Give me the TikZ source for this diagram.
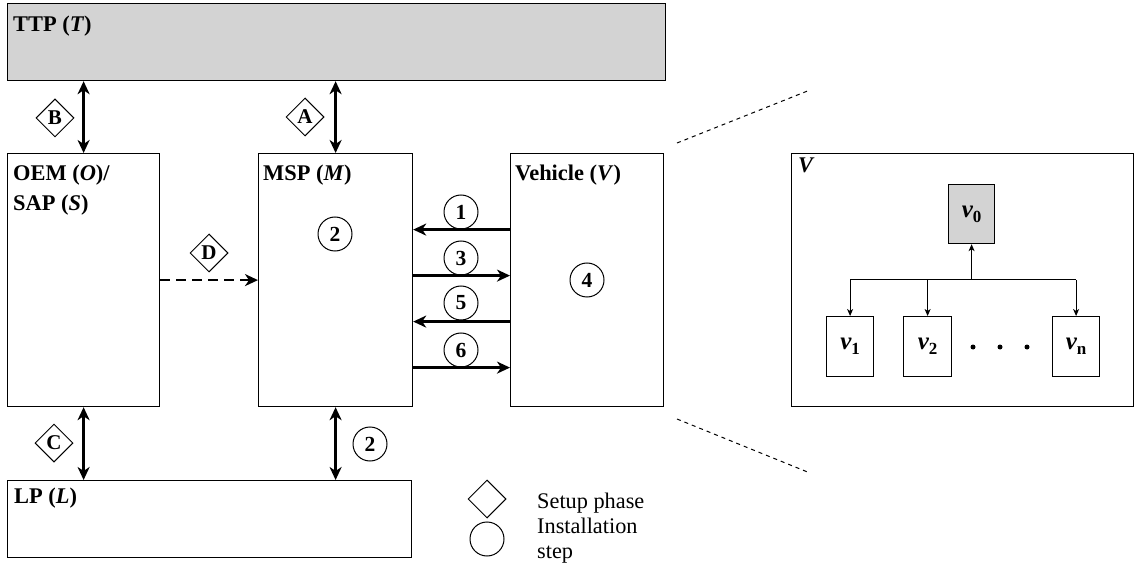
\documentclass[tikz,border=0pt]{standalone}
\usepackage{fontspec}
\setmainfont{Liberation Serif}
\usetikzlibrary{arrows.meta,shapes.geometric,calc}
\definecolor{lgray}{RGB}{211,211,211}
\newcommand{\vsub}[1]{{\bfseries\itshape v}\raisebox{-5pt}{\bfseries\fontsize{17}{17}\selectfont #1}}
\tikzset{
  box/.style={draw, line width=1.2pt, inner sep=0, anchor=north west},
  lbl/.style={anchor=base west, inner sep=0, font=\fontsize{22.4}{24}\selectfont\bfseries},
  dia/.style={draw, diamond, line width=1pt, minimum width=38pt, minimum height=38pt, inner sep=0, font=\fontsize{21}{21}\selectfont\bfseries},
  circ/.style={draw, circle, line width=1pt, minimum size=34pt, inner sep=0, font=\fontsize{21.5}{21.5}\selectfont\bfseries},
  dbl/.style={line width=2.5pt, {Stealth[length=13pt,width=12pt,inset=4pt]}-{Stealth[length=13pt,width=12pt,inset=4pt]}},
  sgl/.style={line width=2.5pt, -{Stealth[length=13pt,width=12pt,inset=4pt]}},
  tarr/.style={line width=1pt, -{Stealth[length=7pt,width=6pt,inset=2pt]}},
  zoomline/.style={line width=1pt, dash pattern=on 4pt off 4pt},
  vnode/.style={box, fill=white},
  dot/.style={circle, fill, inner sep=0, minimum size=5pt},
  legtxt/.style={anchor=base west, inner sep=0, font=\fontsize{22.3}{24}\selectfont}
}
\begin{document}
\begin{tikzpicture}[x=1pt,y=-1pt]
\useasboundingbox (0,0) rectangle (1136,572);
% main boxes
\node[box, fill=lgray, minimum width=658pt, minimum height=77pt] (ttp) at (7,3) {};
\node[box, minimum width=152pt, minimum height=253pt] (oem) at (7,153) {};
\node[box, minimum width=154pt, minimum height=253pt] (msp) at (258,153) {};
\node[box, minimum width=153pt, minimum height=253pt] (veh) at (510,153) {};
\node[box, minimum width=404pt, minimum height=77pt] (lp) at (7,480) {};
\node[box, minimum width=342pt, minimum height=253pt] (vbox) at (791,153) {};
% labels
\node[lbl] (lttp) at (13,32) {TTP (\textit{T})};
\node[lbl] (loem) at (13,181) {OEM (\textit{O})/};
\node[lbl] (lsap) at (13,211) {SAP (\textit{S})};
\node[lbl] (lmsp) at (263,181) {MSP (\textit{M})};
\node[lbl] (lveh) at (515,181) {Vehicle (\textit{V})};
\node[lbl] (llp) at (14,503) {LP (\textit{L})};
\node[lbl] (lv) at (798,173) {\textit{V}};
% vertical arrows
\draw[dbl] (oem.north) -- (oem.north |- ttp.south);
\draw[dbl] (msp.north) -- (msp.north |- ttp.south);
\draw[dbl] (oem.south) -- (oem.south |- lp.north);
\draw[dbl] (msp.south) -- (msp.south |- lp.north);
% dashed D
\draw[sgl, dash pattern=on 10pt off 6pt] (oem.east) -- (msp.west);
% MSP <-> Vehicle
\draw[sgl] ([yshift=50.5pt]veh.west) -- ([yshift=50.5pt]msp.east);
\draw[sgl] ([yshift=4.5pt]msp.east) -- ([yshift=4.5pt]veh.west);
\draw[sgl] ([yshift=-41.5pt]veh.west) -- ([yshift=-41.5pt]msp.east);
\draw[sgl] ([yshift=-87.5pt]msp.east) -- ([yshift=-87.5pt]veh.west);
% diamonds
\node[dia] (dB) at (55,118) {B};
\node[dia] (dA) at (305,117) {A};
\node[dia] (dC) at (54,443) {C};
\node[dia] (dD) at (209,253) {D};
% circles
\node[circ] (c1) at (461,212) {1};
\node[circ] (c2) at (335,234) {2};
\node[circ] (c3) at (461,258) {3};
\node[circ] (c5) at (461,303) {5};
\node[circ] (c6) at (461,350) {6};
\node[circ] (c4) at (587,280) {4};
\node[circ] (c2b) at (370,444) {2};
% legend
\node[dia] (ldia) at (487,499) {};
\node[circ] (lcirc) at (487,539) {};
\node[legtxt] (lt1) at (537,508) {Setup phase};
\node[legtxt] (lt2) at (537,533) {Installation};
\node[legtxt] (lt3) at (537,558) {step};
% zoom lines
\coordinate (z1) at (677,143);
\coordinate (z2) at (810,90);
\coordinate (z3) at (677,419);
\coordinate (z4) at (810,473);
\draw[zoomline] (z1) -- (z2);
\draw[zoomline] (z3) -- (z4);
% vehicle internals
\node[vnode, fill=lgray, minimum width=46pt, minimum height=59pt] (v0) at (948,184) {};
\node[font=\fontsize{25}{25}\selectfont] (tv0) at (v0.center) {\vsub{0}};
\node[vnode, minimum width=47pt, minimum height=60pt] (v1) at (826,316) {};
\node[font=\fontsize{25}{25}\selectfont] (tv1) at (v1.center) {\vsub{1}};
\node[vnode, minimum width=48pt, minimum height=60pt] (v2) at (903,316) {};
\node[font=\fontsize{25}{25}\selectfont] (tv2) at (v2.center) {\vsub{2}};
\node[vnode, minimum width=47pt, minimum height=60pt] (vn) at (1052,316) {};
\node[font=\fontsize{25}{25}\selectfont] (tvn) at (vn.center) {\vsub{n}};
\coordinate (hub) at (v0.south |- 0,280);
\coordinate (left) at (v1.north |- hub);
\coordinate (right) at (vn.north |- hub);
\draw[line width=1pt] (left) -- (right);
\draw[tarr] (hub) -- (v0.south);
\draw[tarr] (left) -- (v1.north);
\draw[tarr] (v2.north |- hub) -- (v2.north);
\draw[tarr] (right) -- (vn.north);
\node[dot] (d1) at (973,347) {};
\node[dot] (d2) at (1000,347) {};
\node[dot] (d3) at (1027,347) {};
\end{tikzpicture}
\end{document}
